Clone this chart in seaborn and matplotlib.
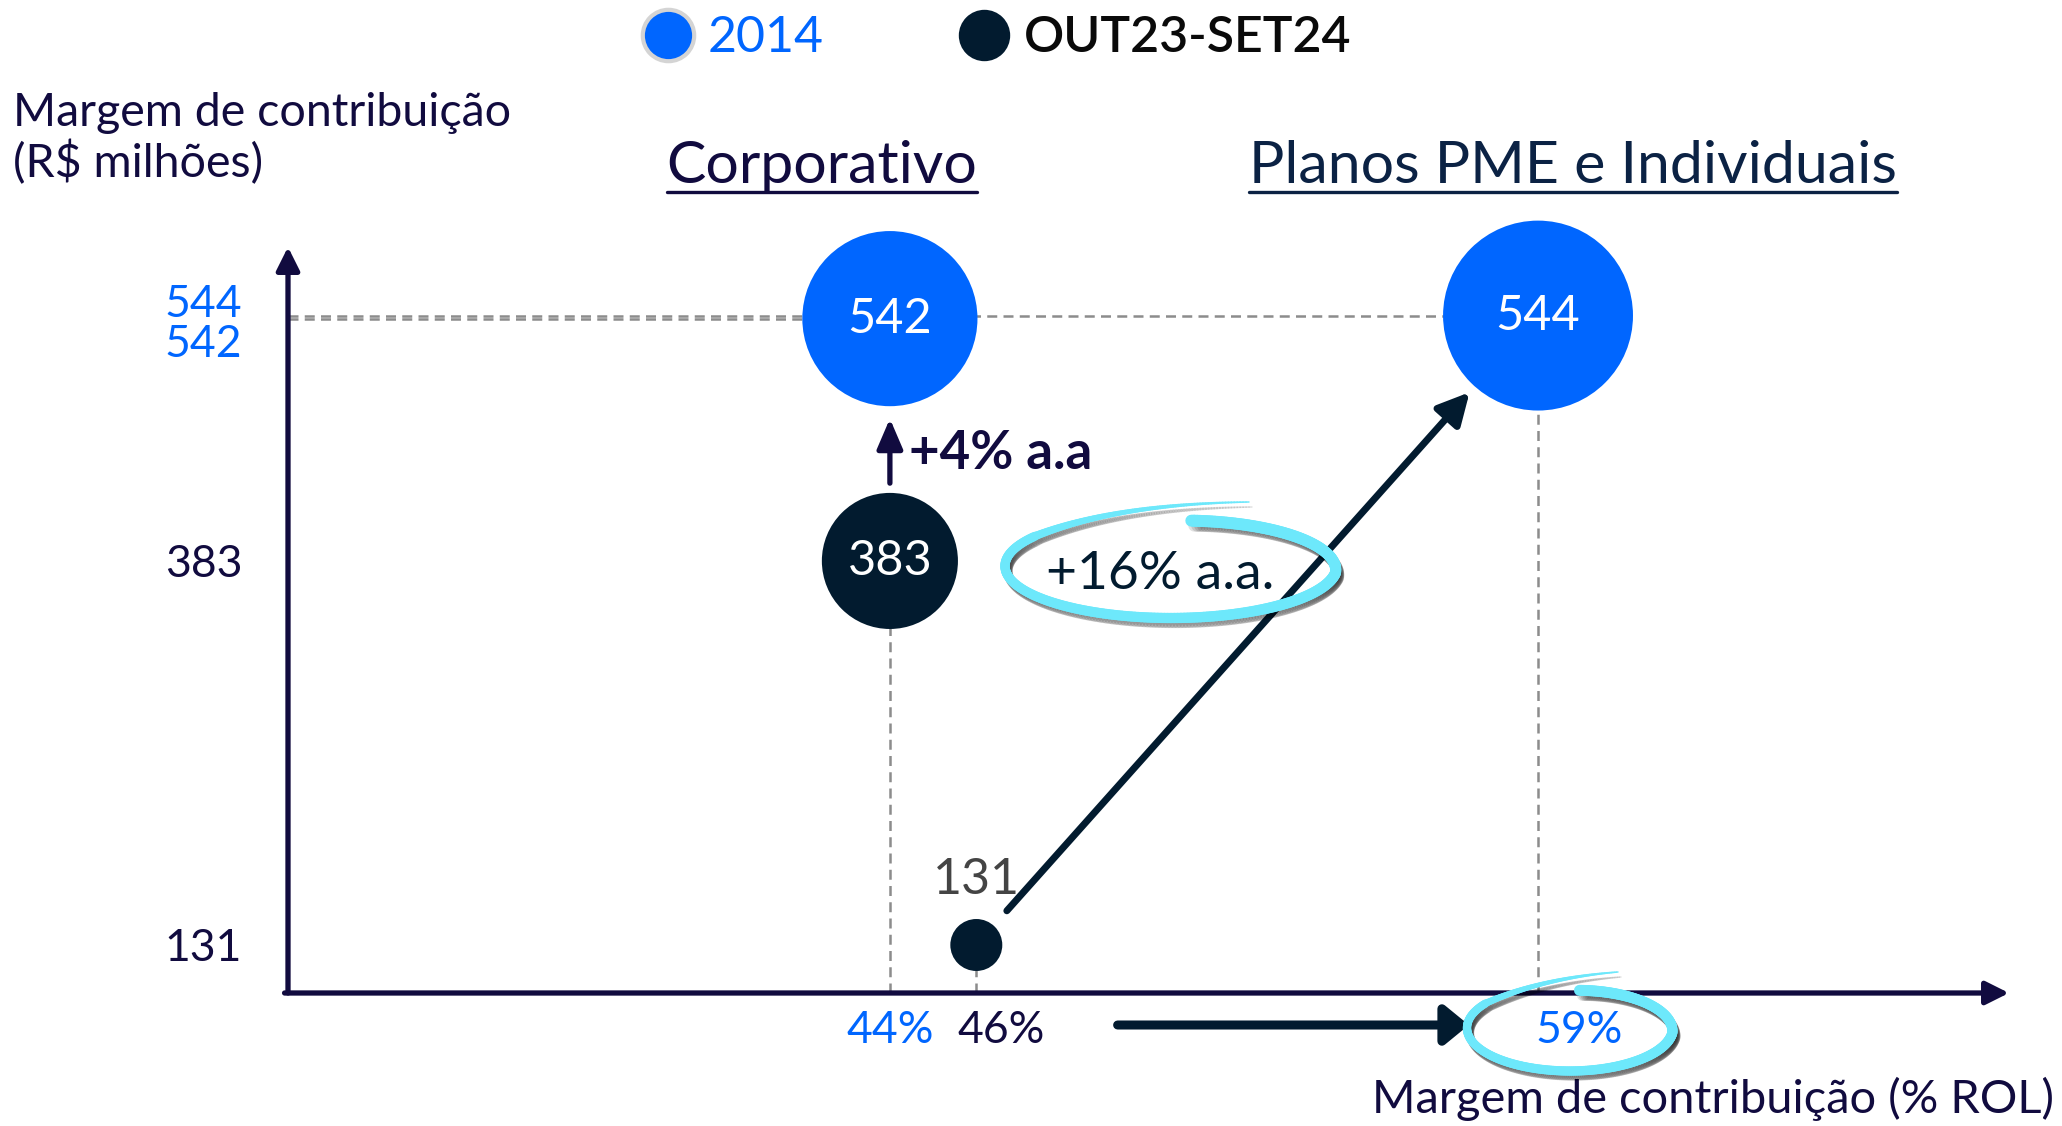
import numpy as np
import pandas as pd
import matplotlib
matplotlib.use("Agg")
import matplotlib.pyplot as plt
import matplotlib.transforms as mtransforms
from matplotlib.collections import LineCollection
from matplotlib.lines import Line2D
import seaborn as sns

# dados
segmentos = ["Corporativo", "Corporativo", "Planos PME e Individuais", "Planos PME e Individuais"]
periodos = ["2014", "OUT23-SET24", "2014", "OUT23-SET24"]
margem_pct = [44, 44, 59, 46]
margem_rs = [542, 383, 544, 131]
crescimento = ["+4% a.a", "+16% a.a."]

y_ticks = [131, 383, 542, 544]
x_ticks = [44, 46, 59]

BLUE = "#0066FF"
NAVY = "#021B2F"
PURPLE = "#110B3F"
CYAN = "#6DE8FB"
DASH = "#8C8C8C"

cores = {"2014": BLUE, "OUT23-SET24": NAVY}
tamanhos = {542: 15900, 544: 18700, 383: 9600, 131: 1400}

W, H = 2062, 1126

df = pd.DataFrame({"segmento": segmentos, "periodo": periodos,
                   "margem_pct": margem_pct, "margem_rs": margem_rs})

sns.set_theme(style="white")
plt.rcParams["font.family"] = ["Lato", "DejaVu Sans"]


def fpos(px, py):
    # pixel (top-left origin) -> figure fraction
    return px / W, 1 - py / H


fig = plt.figure(figsize=(W / 100, H / 100), dpi=100)
ax = fig.add_axes([288 / W, 1 - 993 / H, (2009 - 288) / W, (993 - 247) / H])
ax.patch.set_alpha(0)

sns.scatterplot(data=df, x="margem_pct", y="margem_rs", hue="periodo", palette=cores,
                size="margem_rs", sizes=tamanhos, linewidth=0, legend=False,
                ax=ax, zorder=3)
for c in ax.collections:
    c.set_clip_on(False)

xmin, xmax = 30.07, 69.9
ymin, ymax = 99.5, 589
ax.set_xlim(xmin, xmax)
ax.set_ylim(ymin, ymax)
sns.despine(ax=ax, left=True, bottom=True)
ax.set_xlabel("")
ax.set_ylabel("")

# eixos com seta
arrow_axis = dict(arrowstyle="-|>,head_length=0.7,head_width=0.35", lw=3.8,
                  color=PURPLE, mutation_scale=20, shrinkA=0, shrinkB=0)
ax.annotate("", xy=(0, 1), xytext=(0, 0), xycoords="axes fraction", arrowprops=arrow_axis)
ax.annotate("", xy=(1, 0), xytext=(-0.002, 0), xycoords="axes fraction", arrowprops=arrow_axis)

# linhas tracejadas
dash = dict(ls=(0, (4, 2.5)), lw=1.8, color=DASH, zorder=1)
for x, grp in df.groupby("margem_pct"):
    ax.plot([x, x], [ymin, grp.margem_rs.min()], **dash)
for _, r in df[df.periodo == "2014"].iterrows():
    ax.plot([xmin, r.margem_pct], [r.margem_rs, r.margem_rs], **dash)

# ticks
ax.set_yticks(y_ticks, [str(v) for v in y_ticks])
ax.set_xticks(x_ticks, [f"{v}%" for v in x_ticks])
ax.tick_params(axis="both", length=0, labelsize=32)
ax.tick_params(axis="y", pad=33)
ax.tick_params(axis="x", pad=12)
azuis_y = set(df[df.periodo == "2014"].margem_rs)
azuis_x = set(df[df.periodo == "2014"].margem_pct)
y_shift = {544: 15, 542: -22}
x_shift = {46: 25, 59: 41}
for lab, v in zip(ax.get_yticklabels(), y_ticks):
    lab.set_color(BLUE if v in azuis_y else PURPLE)
    lab.set_transform(lab.get_transform() + mtransforms.ScaledTranslation(
        0, y_shift.get(v, 0) / 100, fig.dpi_scale_trans))
for lab, v in zip(ax.get_xticklabels(), x_ticks):
    lab.set_color(BLUE if v in azuis_x else PURPLE)
    lab.set_transform(lab.get_transform() + mtransforms.ScaledTranslation(
        x_shift.get(v, 0) / 100, 0, fig.dpi_scale_trans))

# rótulos das bolhas
for _, r in df.iterrows():
    if r.margem_rs > 200:
        ax.text(r.margem_pct, r.margem_rs, str(r.margem_rs), color="white", fontsize=35,
                ha="center", va="center", zorder=4)
    else:
        ax.annotate(str(r.margem_rs), (r.margem_pct, r.margem_rs), xytext=(0, 47),
                    textcoords="offset points", color="#444444", fontsize=36,
                    ha="center", va="center", zorder=4)

# seta corporativo
corp = df[df.segmento == "Corporativo"].sort_values("margem_rs")
(x0, y0), (x1, y1) = corp[["margem_pct", "margem_rs"]].values
ax.annotate("", xy=(x1, y1), xytext=(x0, y0),
            arrowprops=dict(arrowstyle="-|>,head_length=0.7,head_width=0.3", lw=3.8,
                            color=PURPLE, mutation_scale=26, shrinkA=56, shrinkB=72))
ax.annotate(crescimento[0], ((x0 + x1) / 2, (y0 + y1) / 2), xytext=(14, -10),
            textcoords="offset points", fontsize=38, fontweight="bold", color=PURPLE,
            ha="left", va="center")

# seta PME
pme = df[df.segmento != "Corporativo"].sort_values("margem_rs")
(x0, y0), (x1, y1) = pme[["margem_pct", "margem_rs"]].values
ax.annotate("", xy=(x1, y1), xytext=(x0, y0),
            arrowprops=dict(arrowstyle="-|>,head_length=0.7,head_width=0.36", lw=5,
                            color=NAVY, mutation_scale=27, shrinkA=33, shrinkB=74),
            zorder=2)
ax.annotate(crescimento[1], ((x0 + x1) / 2, (y0 + y1) / 2), xytext=(-70, 40),
            textcoords="offset points", fontsize=38.5, color=NAVY,
            ha="center", va="center", zorder=6)

# seta horizontal abaixo do eixo
ax.annotate("", xy=(57.4, 78.5), xytext=(49.27, 78.5), annotation_clip=False,
            arrowprops=dict(arrowstyle="-|>,head_length=0.55,head_width=0.45", lw=6.5,
                            color=NAVY, mutation_scale=26, shrinkA=0, shrinkB=0))


def loop(cx, cy, a, b, t_start, t_end, tail_ctrl, tail_end, w_loop, w_tail):
    # traço "à mão" em volta de um texto, em pixels da figura
    t = np.radians(np.linspace(t_start, t_end, 260))
    g = np.clip(0.88 + 0.12 * (np.radians(t_start) - t) / np.radians(90), 0.88, 1.0)
    lx = cx + a * g * np.cos(t)
    ly = cy - b * g * np.sin(t)
    s = np.linspace(0, 1, 90)
    p0 = np.array([lx[-1], ly[-1]])
    p1 = np.array([cx + tail_ctrl[0], cy - tail_ctrl[1]])
    p2 = np.array([cx + tail_end[0], cy - tail_end[1]])
    bez = ((1 - s) ** 2)[:, None] * p0 + (2 * (1 - s) * s)[:, None] * p1 + (s ** 2)[:, None] * p2
    xs = np.concatenate([lx, bez[1:, 0]])
    ys = np.concatenate([ly, bez[1:, 1]])
    wl = np.linspace(w_loop[0], w_loop[1], len(lx) - 1)
    wt = np.linspace(w_tail[0], w_tail[1], len(bez) - 1)
    widths = np.concatenate([wl, wt]) * 0.72
    pts = np.column_stack([xs / W, 1 - ys / H])
    segs = np.stack([pts[:-1], pts[1:]], axis=1)
    sh = segs + np.array([3 / W, -5 / H])
    fig.add_artist(LineCollection(sh, linewidths=widths, colors="#000000", alpha=0.12,
                                  capstyle="round", transform=fig.transFigure, zorder=4))
    fig.add_artist(LineCollection(segs, linewidths=widths, colors=CYAN, capstyle="round",
                                  transform=fig.transFigure, zorder=5))


loop(1171, 566, 166, 52, 82, -215, (-55, 62), (78, 64), (12, 9), (8, 1.5))
loop(1570, 1028, 103, 43, 84, -215, (-28, 50), (48, 56), (11, 8), (7, 1.5))

# legenda
handles = [Line2D([], [], marker="o", ls="", ms=37, mfc=cores[p],
                  mec="#D4D4D4" if p == "2014" else cores[p], mew=3 if p == "2014" else 0)
           for p in cores]
leg = fig.legend(handles, list(cores), loc="center", bbox_to_anchor=fpos(997, 38),
                 ncol=2, frameon=False, fontsize=36, handletextpad=0.3,
                 columnspacing=2.7, handlelength=1.0)
for txt, p in zip(leg.get_texts(), cores):
    txt.set_color(BLUE if p == "2014" else "#0A0A0A")
    txt.set_fontweight("normal" if p == "2014" else "semibold")

# títulos e rótulos
fig.text(*fpos(13, 113), "Margem de contribuição", fontsize=33.5, color=PURPLE,
         ha="left", va="center")
fig.text(*fpos(13, 163), "(R$ milhões)", fontsize=33.5, color=PURPLE, ha="left", va="center")
fig.text(*fpos(2054, 1099), "Margem de contribuição (% ROL)", fontsize=33.8, color=PURPLE,
         ha="right", va="center")

titulos = [(segmentos[0], 822, PURPLE), (segmentos[2], 1573, "#0B2244")]
tit_art = []
for nome, px, col in titulos:
    tit_art.append((fig.text(*fpos(px, 183), nome, fontsize=42.5, color=col,
                             ha="center", va="baseline"), col))

fig.canvas.draw()
r = fig.canvas.get_renderer()
for t, col in tit_art:
    bb = t.get_window_extent(r)
    yline = 1 - 192 / H
    fig.add_artist(Line2D([bb.x0 / W, bb.x1 / W], [yline, yline], lw=2.4, color=col,
                          transform=fig.transFigure))

fig.savefig("out.png", dpi=100)
